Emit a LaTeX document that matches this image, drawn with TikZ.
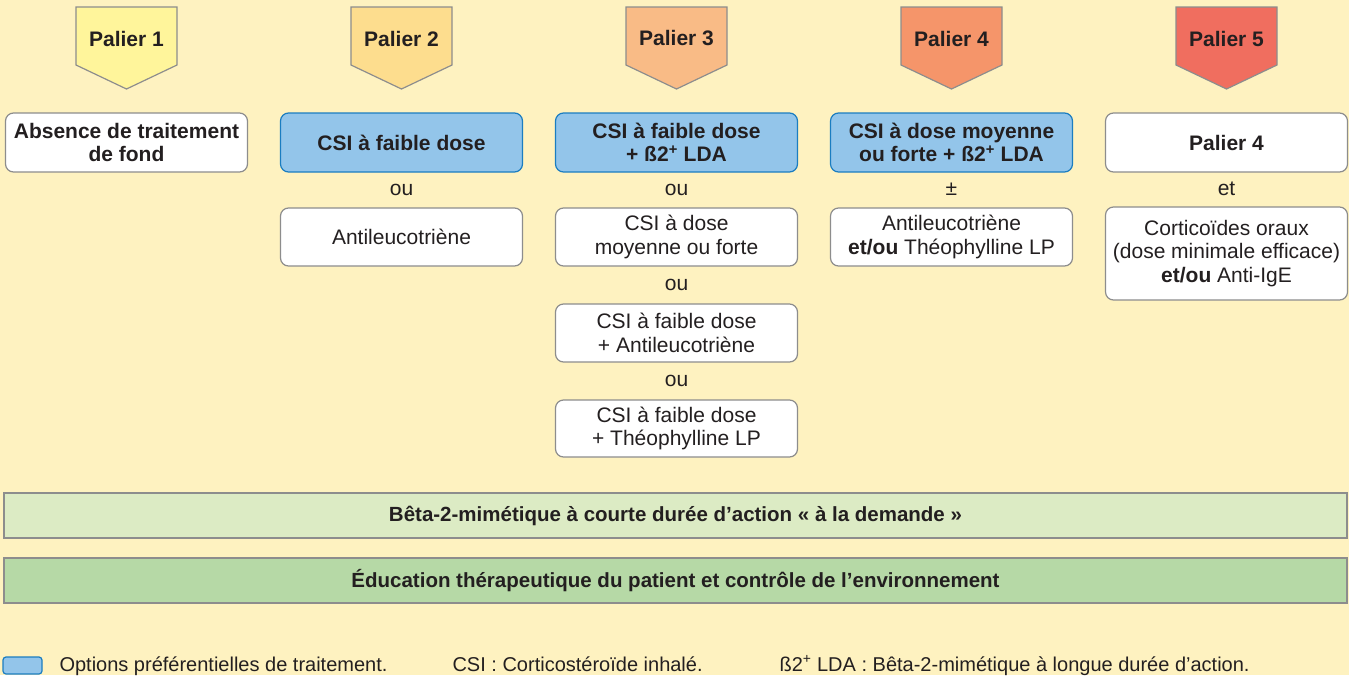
\documentclass[tikz,border=0pt]{standalone}
\usepackage{fontspec}
\setmainfont{Liberation Sans}
\definecolor{fond}{HTML}{FEF2C0}
\definecolor{pal1}{HTML}{FFF59B}
\definecolor{pal2}{HTML}{FDDD8E}
\definecolor{pal3}{HTML}{F9BB86}
\definecolor{pal4}{HTML}{F5956A}
\definecolor{pal5}{HTML}{F06E5F}
\definecolor{bleu}{HTML}{93C5EA}
\definecolor{bleubord}{HTML}{1B7DC1}
\definecolor{gris}{HTML}{8D8D8D}
\definecolor{vertclair}{HTML}{DCEBC4}
\definecolor{vert}{HTML}{B6D9A6}
\definecolor{texte}{HTML}{231F20}
\tikzset{
  palier/.style={draw=gris, line width=1.2pt},
  titre/.style={font=\bfseries\fontsize{21}{24}\selectfont, text=texte},
  boite/.style={rectangle, rounded corners=8pt, draw=gris, fill=white, line width=1.2pt,
    minimum width=242pt, align=center, inner sep=2pt, text=texte,
    font=\fontsize{21}{23.5}\selectfont},
  gras/.style={font=\bfseries\fontsize{21}{23.5}\selectfont},
  pref/.style={boite, gras, fill=bleu, draw=bleubord},
  lien/.style={anchor=base, text=texte, font=\fontsize{21}{24}\selectfont},
  bande/.style={rectangle, draw=gris, line width=1.2pt, minimum width=1343pt,
    minimum height=45pt, text=texte, font=\bfseries\fontsize{20.5}{23}\selectfont},
  legende/.style={anchor=base west, text=texte, font=\fontsize{20}{22}\selectfont}
}
\begin{document}
\begin{tikzpicture}[x=1pt, y=-1pt]
\fill[fond] (0,0) rectangle (1349,675);
\useasboundingbox (0,0) rectangle (1349,675);

% paliers
\foreach \i/\c in {1/pal1,2/pal2,3/pal3,4/pal4,5/pal5}{
  \pgfmathsetmacro\x{126.5+275*(\i-1)}
  \draw[palier, fill=\c] (\x-50.5,7) -- ++(101,0) -- ++(0,58) -- (\x,89) -- (\x-50.5,65) -- cycle;
  \node[titre] (p\i) at (\x,38.5) {Palier \i};
}

% palier 1
\node[boite, gras, minimum height=59pt] (b1) at (126.5,142.5) {Absence de traitement\\de fond};

% palier 2
\node[pref, minimum height=59pt] (b2) at (401.5,142.5) {CSI à faible dose};
\node[lien] (ou2) at (401.5,195.5) {ou};
\node[boite, minimum height=58pt] (b2b) at (401.5,237) {Antileucotriène};

% palier 3
\node[pref, minimum height=59pt] (b3) at (676.5,142.5) {CSI à faible dose\\+ ß2\textsuperscript{+} LDA};
\node[lien] (ou3a) at (676.5,195.5) {ou};
\node[boite, minimum height=58pt] (b3b) at (676.5,237) {CSI à dose\\moyenne ou forte};
\node[lien] (ou3b) at (676.5,290) {ou};
\node[boite, minimum height=58pt] (b3c) at (676.5,333) {CSI à faible dose\\+ Antileucotriène};
\node[lien] (ou3c) at (676.5,386) {ou};
\node[boite, minimum height=57pt] (b3d) at (676.5,428.5) {CSI à faible dose\\+ Théophylline LP};

% palier 4
\node[pref, minimum height=59pt] (b4) at (951.5,142.5) {CSI à dose moyenne\\ou forte + ß2\textsuperscript{+} LDA};
\node[lien] (pm4) at (951.5,195.5) {±};
\node[boite, minimum height=58pt] (b4b) at (951.5,237) {Antileucotriène\\\textbf{et/ou} Théophylline LP};

% palier 5
\node[boite, gras, minimum height=59pt] (b5) at (1226.5,142.5) {Palier 4};
\node[lien] (et5) at (1226.5,195.5) {et};
\node[boite, minimum height=93pt] (b5b) at (1226.5,253.5) {Corticoïdes oraux\\(dose minimale efficace)\\\textbf{et/ou} Anti-IgE};

% bandes
\node[bande, fill=vertclair] (ba1) at (675.5,515.5) {Bêta-2-mimétique à courte durée d’action «~à la demande~»};
\node[bande, fill=vert] (ba2) at (675.5,580.5) {Éducation thérapeutique du patient et contrôle de l’environnement};

% legende
\node[rectangle, rounded corners=3pt, draw=bleubord, fill=bleu, line width=1.2pt,
  minimum width=39pt, minimum height=17pt, inner sep=0pt] (cle) at (22.5,665.5) {};
\node[legende] (l1) at (56,671.5) {Options préférentielles de traitement.};
\node[legende] (l2) at (449,671.5) {CSI : Corticostéroïde inhalé.};
\node[legende] (l3) at (776,671.5) {ß2\textsuperscript{+} LDA : Bêta-2-mimétique à longue durée d’action.};
\end{tikzpicture}
\end{document}
